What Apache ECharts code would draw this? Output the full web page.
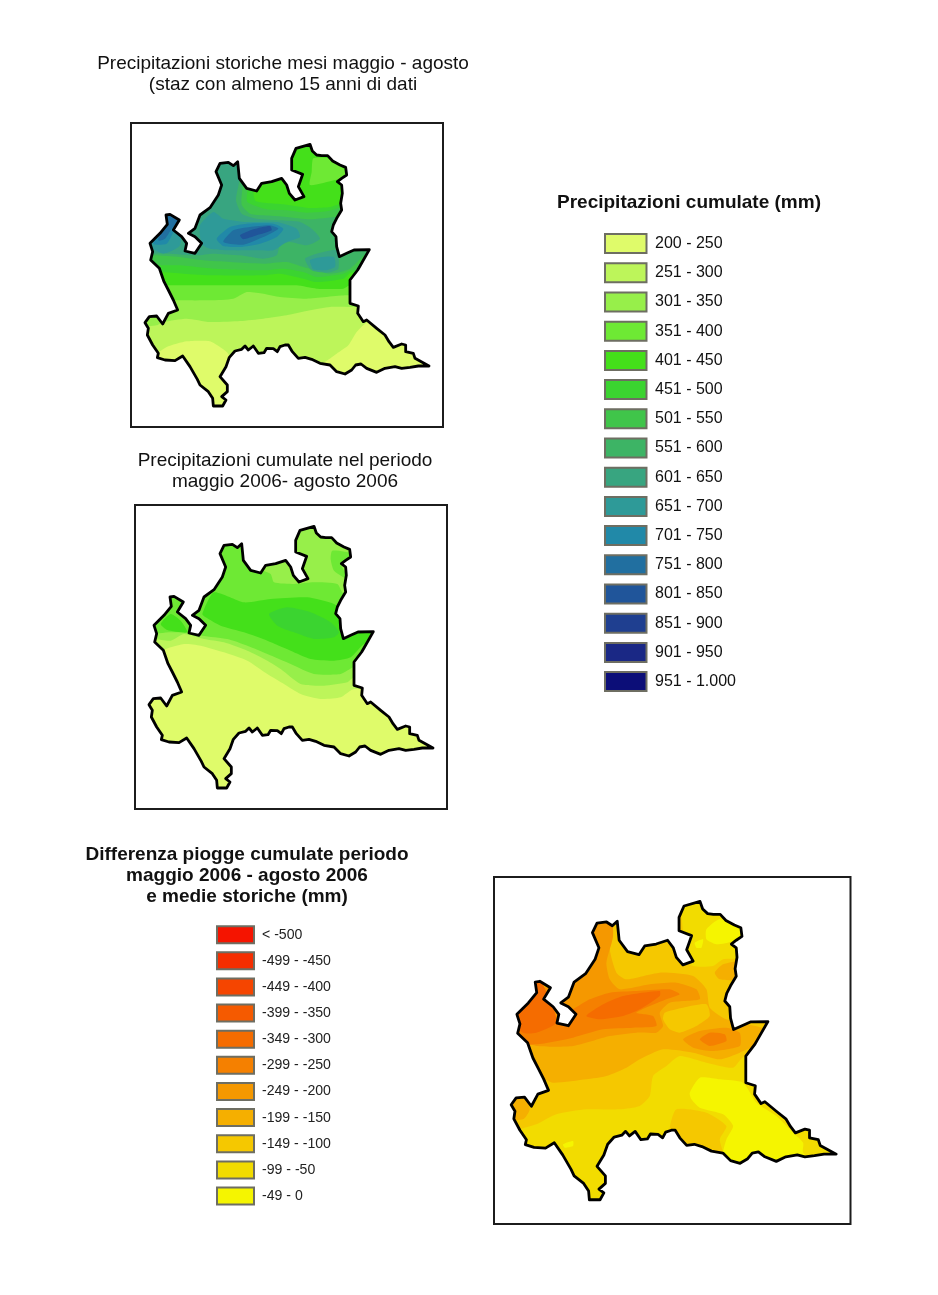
<!DOCTYPE html>
<html>
<head>
<meta charset="utf-8">
<title>Precipitazioni Lombardia</title>
<script src="https://cdn.jsdelivr.net/npm/echarts@6/dist/echarts.min.js"></script>
<style>
    html, body { margin: 0; padding: 0; background: #fff; }
    #chart { width: 938px; height: 1295px; }
</style>
</head>
<body>
<div id="chart"></div>
<script>
// legenda precipitazioni cumulate (mm)
const rainLabels = ['200 - 250', '251 - 300', '301 - 350', '351 - 400', '401 - 450', '451 - 500', '501 - 550', '551 - 600',
    '601 - 650', '651 - 700', '701 - 750', '751 - 800', '801 - 850', '851 - 900', '901 - 950', '951 - 1.000'];
const rainColors = ['#dffb6a', '#bdf55a', '#97ef4a', '#6ee934', '#44e01a', '#3bd430', '#40c54a', '#3db465',
    '#38a580', '#2e9a98', '#2189a8', '#216fa0', '#20559a', '#1f3f90', '#1a2885', '#0c0e78'];

// legenda differenza (mm)
const diffLabels = ['< -500', '-499 - -450', '-449 - -400', '-399 - -350', '-349 - -300', '-299 - -250',
    '-249 - -200', '-199 - -150', '-149 - -100', '-99 - -50', '-49 - 0'];
const diffColors = ['#f51400', '#f52e00', '#f54500', '#f55a00', '#f56c00', '#f58000',
    '#f59800', '#f5af00', '#f5c800', '#f2dc00', '#f5f500'];

// confine regionale, unita' mappa
const outline = [[540,67],[547,87],[560,99],[575,101],[593,101],[608,117],[630,129],[647,136],[650,159],[635,169],[622,179],[635,189],[637,214],[632,244],[635,264],[620,289],[610,309],[605,329],[618,344],[620,374],[628,404],[650,394],[672,384],[718,383],[690,432],[683,444],[660,474],[660,514],[660,544],[685,552],[683,574],[700,599],[710,594],[740,619],[765,639],[777,659],[790,676],[815,666],[827,669],[827,689],[850,694],[855,709],[897,732],[865,732],[840,736],[815,739],[795,734],[765,739],[740,751],[710,739],[693,726],[677,729],[665,744],[645,756],[620,749],[600,729],[570,724],[545,712],[525,706],[505,709],[487,689],[475,669],[465,669],[450,674],[442,689],[430,680],[410,679],[402,692],[385,694],[370,672],[355,684],[345,672],[335,682],[315,687],[298,706],[288,734],[270,764],[292,789],[292,809],[275,824],[288,834],[278,852],[250,852],[248,829],[235,809],[210,789],[202,772],[180,734],[158,702],[135,716],[105,714],[82,707],[85,694],[68,669],[52,639],[55,619],[45,602],[58,584],[80,582],[98,606],[115,574],[143,564],[130,534],[115,504],[102,479],[88,439],[62,414],[68,389],[60,364],[90,334],[112,307],[108,279],[120,277],[148,294],[130,324],[155,344],[170,364],[165,387],[195,394],[215,364],[195,344],[175,334],[195,319],[210,279],[240,257],[265,219],[275,189],[258,149],[270,124],[295,121],[310,131],[323,119],[328,169],[350,199],[380,207],[395,184],[425,179],[455,169],[470,189],[478,214],[495,234],[522,224],[505,194],[518,157],[485,144],[485,109],[498,79],[540,67]];

// fasce storiche: [classe, poligono]
const storicheBands = [
    [0, [[0,0],[939,0],[939,918],[0,918]]],
    [1, [[5,5],[934,5],[934,590],[715,600],[680,630],[655,670],[620,695],[580,722],[480,760],[340,760],[310,720],[290,690],[240,658],[170,658],[110,675],[70,700],[5,700]]],
    [2, [[5,5],[934,5],[934,550],[670,555],[600,555],[540,565],[470,580],[400,590],[330,597],[240,600],[170,590],[100,600],[80,610],[5,610]]],
    [3, [[5,5],[934,5],[934,520],[650,520],[530,530],[450,525],[400,515],[350,510],[310,530],[240,535],[140,535],[5,530]]],
    [4, [[5,5],[934,5],[934,490],[660,490],[640,500],[560,500],[500,490],[420,490],[300,490],[180,490],[110,490],[5,490]]],
    [3, [[550,109],[595,109],[640,139],[660,164],[615,174],[540,189],[545,150]]],
    [5, [[5,40],[375,40],[370,210],[378,238],[470,248],[540,258],[600,255],[650,240],[790,240],[790,450],[662,452],[640,470],[560,480],[520,470],[450,455],[400,460],[250,460],[160,455],[90,450],[5,450]]],
    [6, [[5,40],[358,40],[352,205],[352,240],[410,262],[470,265],[530,272],[590,268],[640,255],[790,255],[790,440],[665,445],[640,455],[560,465],[520,450],[460,440],[400,445],[250,440],[150,430],[80,430],[5,425]]],
    [7, [[5,40],[342,40],[338,190],[335,248],[362,276],[400,280],[470,285],[540,292],[625,285],[790,300],[790,380],[720,385],[660,440],[600,455],[520,435],[470,420],[400,425],[300,420],[220,415],[150,405],[75,400],[5,400]]],
    [8, [[5,40],[332,40],[328,175],[318,235],[335,275],[380,290],[450,295],[510,300],[545,320],[570,350],[530,370],[480,360],[450,370],[440,400],[400,410],[330,400],[250,395],[200,400],[110,395],[60,395],[5,395]]],
    [8, [[525,410],[560,395],[620,385],[625,440],[590,452],[545,445]]],
    [9, [[210,310],[250,270],[280,290],[350,300],[440,300],[500,320],[510,345],[470,360],[430,385],[380,385],[300,385],[240,380],[215,365]]],
    [9, [[60,370],[105,270],[150,280],[150,370],[100,395]]],
    [9, [[540,415],[575,405],[612,405],[615,435],[585,445],[550,442]]],
    [10, [[260,350],[300,315],[350,305],[430,305],[460,320],[440,345],[390,365],[330,375],[280,372]]],
    [10, [[70,365],[105,270],[150,285],[130,330],[110,365]]],
    [11, [[280,360],[310,325],[360,315],[420,310],[445,320],[400,345],[340,368]]],
    [11, [[85,355],[105,270],[150,290],[125,320],[105,350]]],
    [12, [[330,340],[370,322],[420,312],[425,325],[380,340],[340,352]]]
];

// fasce maggio-agosto 2006
const periodoBands = [
    [0, [[0,0],[939,0],[939,918],[0,918]]],
    [1, [[5,5],[934,5],[934,555],[660,555],[620,580],[560,585],[500,570],[450,540],[400,510],[340,470],[270,445],[200,425],[150,420],[110,430],[80,440],[5,440]]],
    [2, [[5,5],[934,5],[934,520],[660,520],[640,535],[570,545],[500,540],[440,495],[400,470],[340,440],[270,415],[210,405],[150,390],[110,410],[60,405],[5,405]]],
    [3, [[5,385],[110,385],[165,385],[205,395],[280,405],[340,425],[400,450],[470,480],[540,510],[620,510],[660,490],[790,490],[790,270],[630,270],[610,240],[540,235],[480,240],[420,235],[410,210],[370,190],[330,40],[250,40],[5,200]]],
    [3, [[595,140],[660,150],[660,170],[620,180],[650,230],[600,200],[590,165]]],
    [4, [[205,330],[240,265],[330,295],[410,285],[520,280],[600,300],[640,330],[790,380],[690,420],[650,460],[600,470],[530,465],[470,440],[400,410],[330,385],[260,365],[215,340]]],
    [4, [[80,360],[110,330],[140,350],[160,385],[100,378]]],
    [5, [[405,330],[460,310],[530,325],[590,355],[615,385],[600,400],[540,405],[480,385],[430,365]]]
];

// fasce differenza, unita' del riquadro grande
const differenzaBands = [
    [9, [[0,0],[1074,0],[1074,1047],[0,1047]]],
    [8, [[5,5],[1069,5],[1069,540],[755,540],[720,575],[640,560],[560,540],[520,570],[480,600],[470,660],[440,690],[380,700],[280,700],[190,715],[130,745],[75,760],[5,760]]],
    [8, [[550,700],[640,710],[700,750],[680,790],[690,840],[600,820],[550,780],[530,760]]],
    [9, [[570,40],[790,40],[790,240],[690,250],[660,270],[600,270],[560,240],[570,180]]],
    [7, [[5,420],[100,540],[140,600],[180,620],[280,610],[340,600],[400,575],[440,550],[510,520],[600,530],[680,550],[740,530],[820,490],[820,460],[700,430],[650,395],[640,340],[600,300],[500,290],[400,310],[370,290],[350,220],[345,60],[250,60],[5,300]]],
    [7, [[5,650],[90,650],[110,700],[90,730],[5,730]]],
    [7, [[665,290],[690,265],[760,255],[760,310],[680,310]]],
    [8, [[515,410],[570,395],[640,385],[650,420],[610,450],[560,470],[530,460],[510,430]]],
    [6, [[5,400],[80,490],[130,510],[240,510],[350,480],[430,470],[490,470],[510,450],[500,410],[530,380],[620,370],[610,340],[550,320],[470,325],[380,340],[350,310],[340,260],[360,180],[350,60],[290,60],[260,300],[220,340],[5,320]]],
    [6, [[570,490],[620,465],[700,455],[740,470],[740,510],[660,525],[600,515]]],
    [5, [[5,500],[130,505],[240,485],[330,460],[420,455],[490,450],[480,420],[430,410],[520,370],[560,355],[530,340],[430,345],[350,350],[290,370],[240,400],[190,430],[130,440],[5,400]]],
    [5, [[620,490],[650,470],[695,475],[700,495],[650,510]]],
    [4, [[50,420],[125,290],[175,380],[190,440],[130,470],[90,470]]],
    [4, [[280,420],[330,385],[390,360],[500,345],[500,360],[440,400],[390,420],[320,430]]],
    [10, [[640,160],[680,130],[760,160],[720,195],[670,205],[640,190]]],
    [10, [[605,200],[630,190],[625,215],[610,215]]],
    [10, [[210,805],[240,795],[240,810],[215,815]]],
    [10, [[590,650],[620,605],[680,610],[750,620],[790,680],[850,720],[900,770],[930,800],[930,830],[1000,900],[860,900],[740,900],[690,840],[700,790],[720,750],[690,715],[620,695],[595,670]]]
];

// riquadri mappa: [xMin, xMax, yMin, yMax]
const storicheBox = [3, 939, 3, 915];
const periodoBox = [3, 939, 3, 915];
const differenzaBox = [3, 1072, 3, 1044];

const chart = echarts.init(document.getElementById('chart'));
const fontName = '"Liberation Sans", Arial, sans-serif';

function bandSeries(index, bands, colors, box, toMap) {
    const ring = outline.map(toMap);
    const [x0, x1, y0, y1] = box;
    return [{
        type: 'custom',
        xAxisIndex: index,
        yAxisIndex: index,
        silent: true,
        clip: true,
        data: bands.map((b, i) => [i]),
        renderItem(params, api) {
            const band = bands[params.dataIndex];
            return {
                type: 'polygon',
                shape: { points: band[1].map(p => api.coord(p)), smooth: params.dataIndex === 0 ? 0 : 0.2 },
                style: { fill: colors[band[0]] },
            };
        },
    }, {
        // tutto cio' che e' fuori dal confine torna bianco, poi cornice e confine
        type: 'custom',
        xAxisIndex: index,
        yAxisIndex: index,
        silent: true,
        clip: false,
        data: [[x0]],
        renderItem(params, api) {
            const top = ring[0][0];
            const corners = [[x0, y0], [x1, y0], [x1, y1], [x0, y1]];
            const mask = [[top, y0], [x1, y0], [x1, y1], [x0, y1], [x0, y0], [top, y0]]
                .concat(ring.slice().reverse());
            return {
                type: 'group',
                children: [{
                    type: 'polygon',
                    shape: { points: mask.map(p => api.coord(p)) },
                    style: { fill: '#fff' },
                }, {
                    type: 'polygon',
                    shape: { points: corners.map(p => api.coord(p)) },
                    style: { fill: 'none', stroke: '#1c1c1c', lineWidth: 2 },
                }, {
                    type: 'polygon',
                    shape: { points: ring.map(p => api.coord(p)) },
                    style: { fill: 'none', stroke: '#000', lineWidth: 2.8, lineJoin: 'round' },
                }],
            };
        },
    }];
}

function legendSeries(index, labels, colors, barHeight) {
    return {
        type: 'bar',
        xAxisIndex: index,
        yAxisIndex: index,
        silent: true,
        clip: false,
        barWidth: barHeight,
        data: labels.map((l, i) => ({
            value: 1,
            itemStyle: { color: colors[i], borderColor: '#6e6e62', borderWidth: 2 },
        })),
    };
}

const mapAxis = (i, min, max) => ({ gridIndex: i, type: 'value', min: min, max: max, show: false });
const mapAxisY = (i, min, max) => ({ gridIndex: i, type: 'value', min: min, max: max, show: false, inverse: true });
const titleStyle = { fontFamily: fontName, fontSize: 19, fontWeight: 'normal', color: '#111', lineHeight: 21 };
const boldStyle = { fontFamily: fontName, fontSize: 19, fontWeight: 'bold', color: '#111', lineHeight: 21 };

const option = {
    backgroundColor: '#fff',
    animation: false,
    title: [
        { text: 'Precipitazioni storiche mesi maggio - agosto\n(staz con almeno 15 anni di dati', left: 283, top: 53, padding: 0, textAlign: 'center', textStyle: titleStyle },
        { text: 'Precipitazioni cumulate nel periodo\nmaggio 2006- agosto 2006', left: 285, top: 450, padding: 0, textAlign: 'center', textStyle: titleStyle },
        { text: 'Precipitazioni cumulate (mm)', left: 689, top: 192, padding: 0, textAlign: 'center', textStyle: boldStyle },
        { text: 'Differenza piogge cumulate periodo\nmaggio 2006 - agosto 2006\ne medie storiche (mm)', left: 247, top: 844, padding: 0, textAlign: 'center', textStyle: boldStyle },
    ],
    grid: [
        { left: 131, top: 123, width: 312, height: 304 },
        { left: 135, top: 505, width: 312, height: 304 },
        { left: 494, top: 877, width: 356.5, height: 347 },
        { left: 604, top: 229, width: 43.5, height: 467.2 },
        { left: 216, top: 921.6, width: 39, height: 287.5 },
    ],
    xAxis: [
        mapAxis(0, storicheBox[0], storicheBox[1]), mapAxis(1, periodoBox[0], periodoBox[1]), mapAxis(2, differenzaBox[0], differenzaBox[1]),
        { gridIndex: 3, type: 'value', min: 0, max: 1, show: false },
        { gridIndex: 4, type: 'value', min: 0, max: 1, show: false },
    ],
    yAxis: [
        mapAxisY(0, storicheBox[2], storicheBox[3]), mapAxisY(1, periodoBox[2], periodoBox[3]), mapAxisY(2, differenzaBox[2], differenzaBox[3]),
        {
            gridIndex: 3, type: 'category', data: rainLabels, inverse: true, position: 'right',
            axisLine: { show: false }, axisTick: { show: false },
            axisLabel: { margin: 7.5, fontSize: 16, color: '#111', fontFamily: fontName },
        },
        {
            gridIndex: 4, type: 'category', data: diffLabels, inverse: true, position: 'right',
            axisLine: { show: false }, axisTick: { show: false },
            axisLabel: { margin: 7, fontSize: 14.1, color: '#222', fontFamily: fontName },
        },
    ],
    series: [
        ...bandSeries(0, storicheBands, rainColors, storicheBox, p => p),
        ...bandSeries(1, periodoBands, rainColors, periodoBox, p => p),
        ...bandSeries(2, differenzaBands, diffColors, differenzaBox, p => [p[0] * 1.144 + 3, p[1] * 1.14]),
        legendSeries(3, rainLabels, rainColors, 21),
        legendSeries(4, diffLabels, diffColors, 19),
    ],
};

chart.setOption(option);
</script>
</body>
</html>
